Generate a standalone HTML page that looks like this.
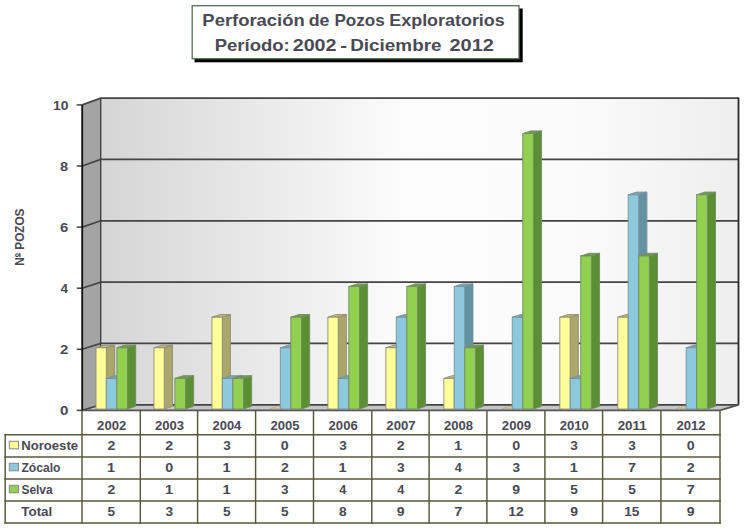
<!DOCTYPE html>
<html><head><meta charset="utf-8"><style>
html,body{margin:0;padding:0;background:#fff;width:747px;height:529px;overflow:hidden}
svg{position:absolute;left:0;top:0}
text{font-family:"Liberation Sans",sans-serif;font-weight:bold;fill:#4A4A55}
</style></head><body>
<svg width="747" height="529" viewBox="0 0 747 529">
<rect x="194.5" y="8.5" width="328.2" height="53.8" fill="#000"/><rect x="192.2" y="5.7" width="326.8" height="53" fill="#fff" stroke="#587058" stroke-width="1.3"/>
<defs><linearGradient id="bw" x1="0" x2="1" y1="0" y2="0"><stop offset="0" stop-color="#D5D5D5"/><stop offset="0.48" stop-color="#FCFCFC"/><stop offset="0.74" stop-color="#FBFBFB"/><stop offset="1" stop-color="#EEEEEE"/></linearGradient></defs><rect x="100.7" y="98.1" width="637.8" height="306.7" fill="url(#bw)"/><polygon points="82.2,104.9 100.7,98.1 100.7,404.8 82.2,410.4" fill="#A4A4A4"/><polygon points="82.2,410.4 100.7,404.8 738.5,404.8 720,410.4" fill="#C6C6C6"/><polyline points="82.2,410.4 100.7,404.8 738.5,404.8" fill="none" stroke="#454545" stroke-width="1.7"/><line x1="76.7" y1="410.4" x2="82.2" y2="410.4" stroke="#444" stroke-width="1.5"/><polyline points="82.2,349.3 100.7,343.46 738.5,343.46" fill="none" stroke="#454545" stroke-width="1.7"/><line x1="76.7" y1="349.3" x2="82.2" y2="349.3" stroke="#444" stroke-width="1.5"/><polyline points="82.2,288.2 100.7,282.12 738.5,282.12" fill="none" stroke="#454545" stroke-width="1.7"/><line x1="76.7" y1="288.2" x2="82.2" y2="288.2" stroke="#444" stroke-width="1.5"/><polyline points="82.2,227.1 100.7,220.78 738.5,220.78" fill="none" stroke="#454545" stroke-width="1.7"/><line x1="76.7" y1="227.1" x2="82.2" y2="227.1" stroke="#444" stroke-width="1.5"/><polyline points="82.2,166 100.7,159.44 738.5,159.44" fill="none" stroke="#454545" stroke-width="1.7"/><line x1="76.7" y1="166" x2="82.2" y2="166" stroke="#444" stroke-width="1.5"/><polyline points="82.2,104.9 100.7,98.1 738.5,98.1" fill="none" stroke="#454545" stroke-width="1.7"/><line x1="76.7" y1="104.9" x2="82.2" y2="104.9" stroke="#444" stroke-width="1.5"/><line x1="100.7" y1="98.1" x2="100.7" y2="404.8" stroke="#3A3A3A" stroke-width="1.3"/><line x1="738.5" y1="97.5" x2="738.5" y2="404.8" stroke="#2A2A2A" stroke-width="1.8"/><polyline points="82.2,410.4 720,410.4 738.5,404.8" fill="none" stroke="#555555" stroke-width="1.9"/><line x1="82.2" y1="104.9" x2="82.2" y2="410.4" stroke="#111" stroke-width="1.8"/><polygon points="106.29,409 114.49,406.3 114.49,345.1 106.29,347.8" fill="#ABA76A" stroke="#8E8C76" stroke-width="0.9"/><polygon points="95.99,347.8 104.19,345.1 114.49,345.1 106.29,347.8" fill="#BDB97C" stroke="#8E8C76" stroke-width="0.9"/><rect x="95.99" y="347.8" width="10.3" height="61.2" fill="#FFFF99" stroke="#8E8C76" stroke-width="0.9"/><polygon points="116.89,409 125.09,406.3 125.09,375.7 116.89,378.4" fill="#6393A2" stroke="#7A909A" stroke-width="0.9"/><polygon points="106.34,378.4 114.54,375.7 125.09,375.7 116.89,378.4" fill="#7AA5B0" stroke="#7A909A" stroke-width="0.9"/><rect x="106.34" y="378.4" width="10.55" height="30.6" fill="#8DC9DC" stroke="#7A909A" stroke-width="0.9"/><polygon points="127.49,409 135.69,406.3 135.69,345.1 127.49,347.8" fill="#5A8F33" stroke="#748A68" stroke-width="0.9"/><polygon points="116.89,347.8 125.09,345.1 135.69,345.1 127.49,347.8" fill="#6E9E4A" stroke="#748A68" stroke-width="0.9"/><rect x="116.89" y="347.8" width="10.6" height="61.2" fill="#92D050" stroke="#748A68" stroke-width="0.9"/><polygon points="164.27,409 172.47,406.3 172.47,345.1 164.27,347.8" fill="#ABA76A" stroke="#8E8C76" stroke-width="0.9"/><polygon points="153.97,347.8 162.17,345.1 172.47,345.1 164.27,347.8" fill="#BDB97C" stroke="#8E8C76" stroke-width="0.9"/><rect x="153.97" y="347.8" width="10.3" height="61.2" fill="#FFFF99" stroke="#8E8C76" stroke-width="0.9"/><polygon points="185.47,409 193.67,406.3 193.67,375.7 185.47,378.4" fill="#5A8F33" stroke="#748A68" stroke-width="0.9"/><polygon points="174.87,378.4 183.07,375.7 193.67,375.7 185.47,378.4" fill="#6E9E4A" stroke="#748A68" stroke-width="0.9"/><rect x="174.87" y="378.4" width="10.6" height="30.6" fill="#92D050" stroke="#748A68" stroke-width="0.9"/><polygon points="222.25,409 230.45,406.3 230.45,314.5 222.25,317.2" fill="#ABA76A" stroke="#8E8C76" stroke-width="0.9"/><polygon points="211.95,317.2 220.15,314.5 230.45,314.5 222.25,317.2" fill="#BDB97C" stroke="#8E8C76" stroke-width="0.9"/><rect x="211.95" y="317.2" width="10.3" height="91.8" fill="#FFFF99" stroke="#8E8C76" stroke-width="0.9"/><polygon points="232.85,409 241.05,406.3 241.05,375.7 232.85,378.4" fill="#6393A2" stroke="#7A909A" stroke-width="0.9"/><polygon points="222.3,378.4 230.5,375.7 241.05,375.7 232.85,378.4" fill="#7AA5B0" stroke="#7A909A" stroke-width="0.9"/><rect x="222.3" y="378.4" width="10.55" height="30.6" fill="#8DC9DC" stroke="#7A909A" stroke-width="0.9"/><polygon points="243.45,409 251.65,406.3 251.65,375.7 243.45,378.4" fill="#5A8F33" stroke="#748A68" stroke-width="0.9"/><polygon points="232.85,378.4 241.05,375.7 251.65,375.7 243.45,378.4" fill="#6E9E4A" stroke="#748A68" stroke-width="0.9"/><rect x="232.85" y="378.4" width="10.6" height="30.6" fill="#92D050" stroke="#748A68" stroke-width="0.9"/><polygon points="269.94,408.7 278.14,406 288.44,406 280.24,408.7" fill="#CFCB98" stroke="#A8A68A" stroke-width="0.6"/><polygon points="290.84,409 299.04,406.3 299.04,345.1 290.84,347.8" fill="#6393A2" stroke="#7A909A" stroke-width="0.9"/><polygon points="280.29,347.8 288.49,345.1 299.04,345.1 290.84,347.8" fill="#7AA5B0" stroke="#7A909A" stroke-width="0.9"/><rect x="280.29" y="347.8" width="10.55" height="61.2" fill="#8DC9DC" stroke="#7A909A" stroke-width="0.9"/><polygon points="301.44,409 309.64,406.3 309.64,314.5 301.44,317.2" fill="#5A8F33" stroke="#748A68" stroke-width="0.9"/><polygon points="290.84,317.2 299.04,314.5 309.64,314.5 301.44,317.2" fill="#6E9E4A" stroke="#748A68" stroke-width="0.9"/><rect x="290.84" y="317.2" width="10.6" height="91.8" fill="#92D050" stroke="#748A68" stroke-width="0.9"/><polygon points="338.22,409 346.42,406.3 346.42,314.5 338.22,317.2" fill="#ABA76A" stroke="#8E8C76" stroke-width="0.9"/><polygon points="327.92,317.2 336.12,314.5 346.42,314.5 338.22,317.2" fill="#BDB97C" stroke="#8E8C76" stroke-width="0.9"/><rect x="327.92" y="317.2" width="10.3" height="91.8" fill="#FFFF99" stroke="#8E8C76" stroke-width="0.9"/><polygon points="348.82,409 357.02,406.3 357.02,375.7 348.82,378.4" fill="#6393A2" stroke="#7A909A" stroke-width="0.9"/><polygon points="338.27,378.4 346.47,375.7 357.02,375.7 348.82,378.4" fill="#7AA5B0" stroke="#7A909A" stroke-width="0.9"/><rect x="338.27" y="378.4" width="10.55" height="30.6" fill="#8DC9DC" stroke="#7A909A" stroke-width="0.9"/><polygon points="359.42,409 367.62,406.3 367.62,283.9 359.42,286.6" fill="#5A8F33" stroke="#748A68" stroke-width="0.9"/><polygon points="348.82,286.6 357.02,283.9 367.62,283.9 359.42,286.6" fill="#6E9E4A" stroke="#748A68" stroke-width="0.9"/><rect x="348.82" y="286.6" width="10.6" height="122.4" fill="#92D050" stroke="#748A68" stroke-width="0.9"/><polygon points="396.2,409 404.4,406.3 404.4,345.1 396.2,347.8" fill="#ABA76A" stroke="#8E8C76" stroke-width="0.9"/><polygon points="385.9,347.8 394.1,345.1 404.4,345.1 396.2,347.8" fill="#BDB97C" stroke="#8E8C76" stroke-width="0.9"/><rect x="385.9" y="347.8" width="10.3" height="61.2" fill="#FFFF99" stroke="#8E8C76" stroke-width="0.9"/><polygon points="406.8,409 415,406.3 415,314.5 406.8,317.2" fill="#6393A2" stroke="#7A909A" stroke-width="0.9"/><polygon points="396.25,317.2 404.45,314.5 415,314.5 406.8,317.2" fill="#7AA5B0" stroke="#7A909A" stroke-width="0.9"/><rect x="396.25" y="317.2" width="10.55" height="91.8" fill="#8DC9DC" stroke="#7A909A" stroke-width="0.9"/><polygon points="417.4,409 425.6,406.3 425.6,283.9 417.4,286.6" fill="#5A8F33" stroke="#748A68" stroke-width="0.9"/><polygon points="406.8,286.6 415,283.9 425.6,283.9 417.4,286.6" fill="#6E9E4A" stroke="#748A68" stroke-width="0.9"/><rect x="406.8" y="286.6" width="10.6" height="122.4" fill="#92D050" stroke="#748A68" stroke-width="0.9"/><polygon points="454.18,409 462.38,406.3 462.38,375.7 454.18,378.4" fill="#ABA76A" stroke="#8E8C76" stroke-width="0.9"/><polygon points="443.88,378.4 452.08,375.7 462.38,375.7 454.18,378.4" fill="#BDB97C" stroke="#8E8C76" stroke-width="0.9"/><rect x="443.88" y="378.4" width="10.3" height="30.6" fill="#FFFF99" stroke="#8E8C76" stroke-width="0.9"/><polygon points="464.78,409 472.98,406.3 472.98,283.9 464.78,286.6" fill="#6393A2" stroke="#7A909A" stroke-width="0.9"/><polygon points="454.23,286.6 462.43,283.9 472.98,283.9 464.78,286.6" fill="#7AA5B0" stroke="#7A909A" stroke-width="0.9"/><rect x="454.23" y="286.6" width="10.55" height="122.4" fill="#8DC9DC" stroke="#7A909A" stroke-width="0.9"/><polygon points="475.38,409 483.58,406.3 483.58,345.1 475.38,347.8" fill="#5A8F33" stroke="#748A68" stroke-width="0.9"/><polygon points="464.78,347.8 472.98,345.1 483.58,345.1 475.38,347.8" fill="#6E9E4A" stroke="#748A68" stroke-width="0.9"/><rect x="464.78" y="347.8" width="10.6" height="61.2" fill="#92D050" stroke="#748A68" stroke-width="0.9"/><polygon points="501.86,408.7 510.06,406 520.36,406 512.16,408.7" fill="#CFCB98" stroke="#A8A68A" stroke-width="0.6"/><polygon points="522.76,409 530.96,406.3 530.96,314.5 522.76,317.2" fill="#6393A2" stroke="#7A909A" stroke-width="0.9"/><polygon points="512.21,317.2 520.41,314.5 530.96,314.5 522.76,317.2" fill="#7AA5B0" stroke="#7A909A" stroke-width="0.9"/><rect x="512.21" y="317.2" width="10.55" height="91.8" fill="#8DC9DC" stroke="#7A909A" stroke-width="0.9"/><polygon points="533.36,409 541.56,406.3 541.56,130.9 533.36,133.6" fill="#5A8F33" stroke="#748A68" stroke-width="0.9"/><polygon points="522.76,133.6 530.96,130.9 541.56,130.9 533.36,133.6" fill="#6E9E4A" stroke="#748A68" stroke-width="0.9"/><rect x="522.76" y="133.6" width="10.6" height="275.4" fill="#92D050" stroke="#748A68" stroke-width="0.9"/><polygon points="570.15,409 578.35,406.3 578.35,314.5 570.15,317.2" fill="#ABA76A" stroke="#8E8C76" stroke-width="0.9"/><polygon points="559.85,317.2 568.05,314.5 578.35,314.5 570.15,317.2" fill="#BDB97C" stroke="#8E8C76" stroke-width="0.9"/><rect x="559.85" y="317.2" width="10.3" height="91.8" fill="#FFFF99" stroke="#8E8C76" stroke-width="0.9"/><polygon points="580.75,409 588.95,406.3 588.95,375.7 580.75,378.4" fill="#6393A2" stroke="#7A909A" stroke-width="0.9"/><polygon points="570.2,378.4 578.4,375.7 588.95,375.7 580.75,378.4" fill="#7AA5B0" stroke="#7A909A" stroke-width="0.9"/><rect x="570.2" y="378.4" width="10.55" height="30.6" fill="#8DC9DC" stroke="#7A909A" stroke-width="0.9"/><polygon points="591.35,409 599.55,406.3 599.55,253.3 591.35,256" fill="#5A8F33" stroke="#748A68" stroke-width="0.9"/><polygon points="580.75,256 588.95,253.3 599.55,253.3 591.35,256" fill="#6E9E4A" stroke="#748A68" stroke-width="0.9"/><rect x="580.75" y="256" width="10.6" height="153" fill="#92D050" stroke="#748A68" stroke-width="0.9"/><polygon points="628.13,409 636.33,406.3 636.33,314.5 628.13,317.2" fill="#ABA76A" stroke="#8E8C76" stroke-width="0.9"/><polygon points="617.83,317.2 626.03,314.5 636.33,314.5 628.13,317.2" fill="#BDB97C" stroke="#8E8C76" stroke-width="0.9"/><rect x="617.83" y="317.2" width="10.3" height="91.8" fill="#FFFF99" stroke="#8E8C76" stroke-width="0.9"/><polygon points="638.73,409 646.93,406.3 646.93,192.1 638.73,194.8" fill="#6393A2" stroke="#7A909A" stroke-width="0.9"/><polygon points="628.18,194.8 636.38,192.1 646.93,192.1 638.73,194.8" fill="#7AA5B0" stroke="#7A909A" stroke-width="0.9"/><rect x="628.18" y="194.8" width="10.55" height="214.2" fill="#8DC9DC" stroke="#7A909A" stroke-width="0.9"/><polygon points="649.33,409 657.53,406.3 657.53,253.3 649.33,256" fill="#5A8F33" stroke="#748A68" stroke-width="0.9"/><polygon points="638.73,256 646.93,253.3 657.53,253.3 649.33,256" fill="#6E9E4A" stroke="#748A68" stroke-width="0.9"/><rect x="638.73" y="256" width="10.6" height="153" fill="#92D050" stroke="#748A68" stroke-width="0.9"/><polygon points="675.81,408.7 684.01,406 694.31,406 686.11,408.7" fill="#CFCB98" stroke="#A8A68A" stroke-width="0.6"/><polygon points="696.71,409 704.91,406.3 704.91,345.1 696.71,347.8" fill="#6393A2" stroke="#7A909A" stroke-width="0.9"/><polygon points="686.16,347.8 694.36,345.1 704.91,345.1 696.71,347.8" fill="#7AA5B0" stroke="#7A909A" stroke-width="0.9"/><rect x="686.16" y="347.8" width="10.55" height="61.2" fill="#8DC9DC" stroke="#7A909A" stroke-width="0.9"/><polygon points="707.31,409 715.51,406.3 715.51,192.1 707.31,194.8" fill="#5A8F33" stroke="#748A68" stroke-width="0.9"/><polygon points="696.71,194.8 704.91,192.1 715.51,192.1 707.31,194.8" fill="#6E9E4A" stroke="#748A68" stroke-width="0.9"/><rect x="696.71" y="194.8" width="10.6" height="214.2" fill="#92D050" stroke="#748A68" stroke-width="0.9"/><line x1="82" y1="410.4" x2="82" y2="523.8" stroke="#57573B" stroke-width="1.45"/><line x1="140.3" y1="410.4" x2="140.3" y2="523.8" stroke="#57573B" stroke-width="1.45"/><line x1="197.6" y1="410.4" x2="197.6" y2="523.8" stroke="#57573B" stroke-width="1.45"/><line x1="255.6" y1="410.4" x2="255.6" y2="523.8" stroke="#57573B" stroke-width="1.45"/><line x1="313.5" y1="410.4" x2="313.5" y2="523.8" stroke="#57573B" stroke-width="1.45"/><line x1="371.8" y1="410.4" x2="371.8" y2="523.8" stroke="#57573B" stroke-width="1.45"/><line x1="429.1" y1="410.4" x2="429.1" y2="523.8" stroke="#57573B" stroke-width="1.45"/><line x1="486.9" y1="410.4" x2="486.9" y2="523.8" stroke="#57573B" stroke-width="1.45"/><line x1="544.9" y1="410.4" x2="544.9" y2="523.8" stroke="#57573B" stroke-width="1.45"/><line x1="602.6" y1="410.4" x2="602.6" y2="523.8" stroke="#57573B" stroke-width="1.45"/><line x1="660.9" y1="410.4" x2="660.9" y2="523.8" stroke="#57573B" stroke-width="1.45"/><line x1="720" y1="410.4" x2="720" y2="523.8" stroke="#57573B" stroke-width="1.45"/><line x1="5.2" y1="433.9" x2="5.2" y2="523.8" stroke="#57573B" stroke-width="1.45"/><line x1="4.4" y1="434.7" x2="720.8" y2="434.7" stroke="#57573B" stroke-width="1.45"/><line x1="4.4" y1="457" x2="720.8" y2="457" stroke="#57573B" stroke-width="1.45"/><line x1="4.4" y1="479" x2="720.8" y2="479" stroke="#57573B" stroke-width="1.45"/><line x1="4.4" y1="501" x2="720.8" y2="501" stroke="#57573B" stroke-width="1.45"/><line x1="4.4" y1="523" x2="720.8" y2="523" stroke="#57573B" stroke-width="1.45"/><rect x="9.3" y="441.3" width="9.2" height="7.5" fill="#FFFF99" stroke="#8A8A8A" stroke-width="1"/><rect x="9.3" y="463.3" width="9.2" height="7.5" fill="#8DC9DC" stroke="#8A8A8A" stroke-width="1"/><rect x="9.3" y="485.3" width="9.2" height="7.5" fill="#92D050" stroke="#8A8A8A" stroke-width="1"/><text x="60" y="415.4" font-size="12" textLength="8.42" lengthAdjust="spacingAndGlyphs" >0</text><text x="60.08" y="354.3" font-size="12" textLength="8.32" lengthAdjust="spacingAndGlyphs" >2</text><text x="60.4" y="293.2" font-size="12" textLength="7.48" lengthAdjust="spacingAndGlyphs" >4</text><text x="60.05" y="232.1" font-size="12" textLength="8.28" lengthAdjust="spacingAndGlyphs" >6</text><text x="60.14" y="171" font-size="12" textLength="8.11" lengthAdjust="spacingAndGlyphs" >8</text><text x="52.93" y="109.9" font-size="12" textLength="15.44" lengthAdjust="spacingAndGlyphs" >10</text><text x="97.1" y="430.4" font-size="12" textLength="29.18" lengthAdjust="spacingAndGlyphs" >2002</text><text x="107.56" y="449.9" font-size="12" textLength="7.86" lengthAdjust="spacingAndGlyphs" >2</text><text x="107.13" y="472" font-size="12" textLength="8.13" lengthAdjust="spacingAndGlyphs" >1</text><text x="107.56" y="494.1" font-size="12" textLength="7.86" lengthAdjust="spacingAndGlyphs" >2</text><text x="107.63" y="516.2" font-size="12" textLength="7.6" lengthAdjust="spacingAndGlyphs" >5</text><text x="154.9" y="430.4" font-size="12" textLength="29.13" lengthAdjust="spacingAndGlyphs" >2003</text><text x="165.36" y="449.9" font-size="12" textLength="7.86" lengthAdjust="spacingAndGlyphs" >2</text><text x="165.28" y="472" font-size="12" textLength="7.95" lengthAdjust="spacingAndGlyphs" >0</text><text x="164.93" y="494.1" font-size="12" textLength="8.13" lengthAdjust="spacingAndGlyphs" >1</text><text x="165.54" y="516.2" font-size="12" textLength="7.61" lengthAdjust="spacingAndGlyphs" >3</text><text x="212.55" y="430.4" font-size="12" textLength="28.72" lengthAdjust="spacingAndGlyphs" >2004</text><text x="223.19" y="449.9" font-size="12" textLength="7.61" lengthAdjust="spacingAndGlyphs" >3</text><text x="222.58" y="472" font-size="12" textLength="8.13" lengthAdjust="spacingAndGlyphs" >1</text><text x="222.58" y="494.1" font-size="12" textLength="8.13" lengthAdjust="spacingAndGlyphs" >1</text><text x="223.08" y="516.2" font-size="12" textLength="7.6" lengthAdjust="spacingAndGlyphs" >5</text><text x="270.5" y="430.4" font-size="12" textLength="29.02" lengthAdjust="spacingAndGlyphs" >2005</text><text x="280.88" y="449.9" font-size="12" textLength="7.95" lengthAdjust="spacingAndGlyphs" >0</text><text x="280.96" y="472" font-size="12" textLength="7.86" lengthAdjust="spacingAndGlyphs" >2</text><text x="281.14" y="494.1" font-size="12" textLength="7.61" lengthAdjust="spacingAndGlyphs" >3</text><text x="281.03" y="516.2" font-size="12" textLength="7.6" lengthAdjust="spacingAndGlyphs" >5</text><text x="328.6" y="430.4" font-size="12" textLength="29.13" lengthAdjust="spacingAndGlyphs" >2006</text><text x="339.24" y="449.9" font-size="12" textLength="7.61" lengthAdjust="spacingAndGlyphs" >3</text><text x="338.63" y="472" font-size="12" textLength="8.13" lengthAdjust="spacingAndGlyphs" >1</text><text x="339.36" y="494.1" font-size="12" textLength="7.06" lengthAdjust="spacingAndGlyphs" >4</text><text x="339.11" y="516.2" font-size="12" textLength="7.66" lengthAdjust="spacingAndGlyphs" >8</text><text x="386.39" y="430.4" font-size="12" textLength="29.23" lengthAdjust="spacingAndGlyphs" >2007</text><text x="396.86" y="449.9" font-size="12" textLength="7.86" lengthAdjust="spacingAndGlyphs" >2</text><text x="397.04" y="472" font-size="12" textLength="7.61" lengthAdjust="spacingAndGlyphs" >3</text><text x="397.16" y="494.1" font-size="12" textLength="7.06" lengthAdjust="spacingAndGlyphs" >4</text><text x="396.86" y="516.2" font-size="12" textLength="7.81" lengthAdjust="spacingAndGlyphs" >9</text><text x="443.95" y="430.4" font-size="12" textLength="29.05" lengthAdjust="spacingAndGlyphs" >2008</text><text x="453.98" y="449.9" font-size="12" textLength="8.13" lengthAdjust="spacingAndGlyphs" >1</text><text x="454.71" y="472" font-size="12" textLength="7.06" lengthAdjust="spacingAndGlyphs" >4</text><text x="454.41" y="494.1" font-size="12" textLength="7.86" lengthAdjust="spacingAndGlyphs" >2</text><text x="454.28" y="516.2" font-size="12" textLength="8.06" lengthAdjust="spacingAndGlyphs" >7</text><text x="501.85" y="430.4" font-size="12" textLength="29.14" lengthAdjust="spacingAndGlyphs" >2009</text><text x="512.23" y="449.9" font-size="12" textLength="7.95" lengthAdjust="spacingAndGlyphs" >0</text><text x="512.49" y="472" font-size="12" textLength="7.61" lengthAdjust="spacingAndGlyphs" >3</text><text x="512.31" y="494.1" font-size="12" textLength="7.81" lengthAdjust="spacingAndGlyphs" >9</text><text x="508.33" y="516.2" font-size="12" textLength="15.43" lengthAdjust="spacingAndGlyphs" >12</text><text x="559.7" y="430.4" font-size="12" textLength="29.19" lengthAdjust="spacingAndGlyphs" >2010</text><text x="570.34" y="449.9" font-size="12" textLength="7.61" lengthAdjust="spacingAndGlyphs" >3</text><text x="569.73" y="472" font-size="12" textLength="8.13" lengthAdjust="spacingAndGlyphs" >1</text><text x="570.23" y="494.1" font-size="12" textLength="7.6" lengthAdjust="spacingAndGlyphs" >5</text><text x="570.16" y="516.2" font-size="12" textLength="7.81" lengthAdjust="spacingAndGlyphs" >9</text><text x="617.7" y="430.4" font-size="12" textLength="29.02" lengthAdjust="spacingAndGlyphs" >2011</text><text x="628.34" y="449.9" font-size="12" textLength="7.61" lengthAdjust="spacingAndGlyphs" >3</text><text x="628.03" y="472" font-size="12" textLength="8.06" lengthAdjust="spacingAndGlyphs" >7</text><text x="628.23" y="494.1" font-size="12" textLength="7.6" lengthAdjust="spacingAndGlyphs" >5</text><text x="624.19" y="516.2" font-size="12" textLength="15.24" lengthAdjust="spacingAndGlyphs" >15</text><text x="676.4" y="430.4" font-size="12" textLength="29.18" lengthAdjust="spacingAndGlyphs" >2012</text><text x="686.78" y="449.9" font-size="12" textLength="7.95" lengthAdjust="spacingAndGlyphs" >0</text><text x="686.86" y="472" font-size="12" textLength="7.86" lengthAdjust="spacingAndGlyphs" >2</text><text x="686.73" y="494.1" font-size="12" textLength="8.06" lengthAdjust="spacingAndGlyphs" >7</text><text x="686.86" y="516.2" font-size="12" textLength="7.81" lengthAdjust="spacingAndGlyphs" >9</text><text x="21.32" y="449.6" font-size="12" textLength="56.72" lengthAdjust="spacingAndGlyphs" >Noroeste</text><text x="21.44" y="471.9" font-size="12" textLength="39.03" lengthAdjust="spacingAndGlyphs" >Zócalo</text><text x="21.46" y="494.2" font-size="12" textLength="31.17" lengthAdjust="spacingAndGlyphs" >Selva</text><text x="21.25" y="516" font-size="12" textLength="31.07" lengthAdjust="spacingAndGlyphs" >Total</text><g transform="translate(23.6,237) rotate(-90)"><text x="-28.79" y="0" font-size="12.5" textLength="57.25" lengthAdjust="spacingAndGlyphs" fill="#2E2E2E" >Nº POZOS</text><rect x="-20.1" y="-4.3" width="4" height="1.2" fill="#2E2E2E"/></g><text x="202.37" y="26.3" font-size="16.5" textLength="102.37" lengthAdjust="spacingAndGlyphs" fill="#3C3C3C" >Perforación</text><text x="308.67" y="26.3" font-size="16.5" textLength="20.74" lengthAdjust="spacingAndGlyphs" fill="#3C3C3C" >de</text><text x="334.46" y="26.3" font-size="16.5" textLength="50.24" lengthAdjust="spacingAndGlyphs" fill="#3C3C3C" >Pozos</text><text x="389.3" y="26.3" font-size="16.5" textLength="115.43" lengthAdjust="spacingAndGlyphs" fill="#3C3C3C" >Exploratorios</text><text x="214.66" y="50.9" font-size="16.5" textLength="75.12" lengthAdjust="spacingAndGlyphs" fill="#3C3C3C" >Período:</text><text x="292.72" y="50.9" font-size="16.5" textLength="43.77" lengthAdjust="spacingAndGlyphs" fill="#3C3C3C" >2002</text><text x="340.2" y="50.9" font-size="16.5" textLength="6.82" lengthAdjust="spacingAndGlyphs" fill="#3C3C3C" >-</text><text x="350.24" y="50.9" font-size="16.5" textLength="91.31" lengthAdjust="spacingAndGlyphs" fill="#3C3C3C" >Diciembre</text><text x="449.51" y="50.9" font-size="16.5" textLength="44.39" lengthAdjust="spacingAndGlyphs" fill="#3C3C3C" >2012</text>
</svg>
</body></html>
